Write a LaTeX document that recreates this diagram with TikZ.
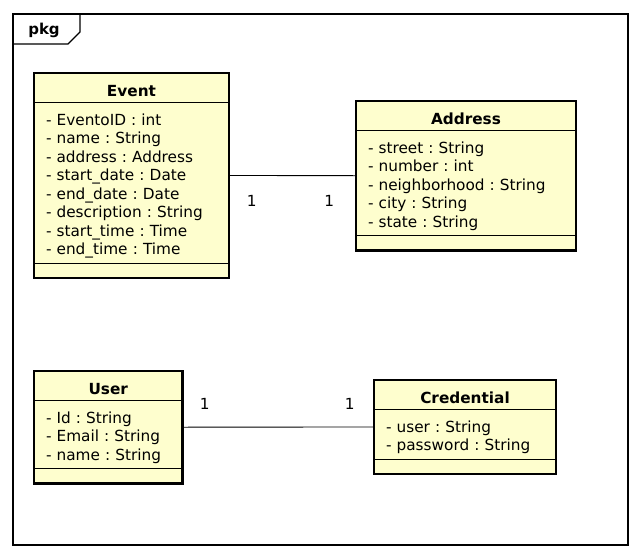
\documentclass[tikz,border=0pt]{standalone}
\usepackage{fontspec}
\setmainfont{DejaVu Sans}
\usetikzlibrary{shapes.multipart,positioning}
\definecolor{umlfill}{HTML}{FEFECE}
\frenchspacing
\newcommand{\topgap}{\rule{0pt}{19.5pt}}
\newcommand{\botgap}{\rule[-5.5pt]{0pt}{5.5pt}}
\newcommand{\titlegap}{\rule[-3.5pt]{0pt}{24pt}}
\tikzset{
  umlclass/.style={rectangle split, rectangle split parts=3, draw, line width=0.8pt,
    fill=umlfill, inner xsep=12pt, inner ysep=2.5pt, outer sep=0pt, anchor=north west,
    align=left, font=\fontsize{15.3}{18.5}\selectfont},
  mult/.style={inner sep=0pt, font=\fontsize{15.3}{18.5}\selectfont},
  frame/.style={line width=1.1pt}
}
\begin{document}
\begin{tikzpicture}[x=1pt, y=-1pt]
    \useasboundingbox (0,0) rectangle (641,558);
    % package frame
    \draw[frame] (13,14) rectangle (628,545);
    \draw[frame] (13,44) -- (68,44) -- (80,32) -- (80,14);
    \node[anchor=base, inner sep=0pt, font=\fontsize{15}{18}\selectfont\bfseries] (pkg) at (44,34) {pkg};

    % classes
    \node[umlclass, text width=171pt] (event) at (34,73)
      {\centering\titlegap\textbf{Event}\par
       \nodepart{second}\topgap- EventoID : int\\- name : String\\- address : Address\\
       - start\_date : Date\\- end\_date : Date\\- description : String\\
       - start\_time : Time\\- end\_time : Time\botgap
       \nodepart{third}\rule{0pt}{9pt}};
    \node[umlclass, text width=196pt] (address) at (356,101)
      {\centering\titlegap\textbf{Address}\par
       \nodepart{second}\topgap- street : String\\- number : int\\
       - neighborhood : String\\- city : String\\- state : String\botgap
       \nodepart{third}\rule{0pt}{9pt}};
    \node[umlclass, text width=124.5pt] (user) at (34,371)
      {\centering\titlegap\textbf{User}\par
       \nodepart{second}\topgap- Id : String\\- Email : String\\- name : String\botgap
       \nodepart{third}\rule{0pt}{9pt}};
    \node[umlclass, text width=158pt] (credential) at (374,380)
      {\centering\titlegap\textbf{Credential}\par
       \nodepart{second}\topgap- user : String\\- password : String\botgap
       \nodepart{third}\rule{0pt}{9pt}};
    \foreach \n in {event,address,user,credential}
      \draw[line width=2.5pt] (\n.north west) rectangle (\n.south east);

    % associations
    \draw[line width=0.9pt] (event.east) -- (address.west)
      node[mult, pos=0, below right=19pt and 17.5pt] (m1) {1}
      node[mult, pos=1, below left=19pt and 21.5pt] (m2) {1};
    \draw[line width=0.9pt] (user.east) -- (credential.west)
      node[mult, pos=0, above right=17pt and 17pt] (m3) {1}
      node[mult, pos=1, above left=17pt and 19pt] (m4) {1};
\end{tikzpicture}
\end{document}
